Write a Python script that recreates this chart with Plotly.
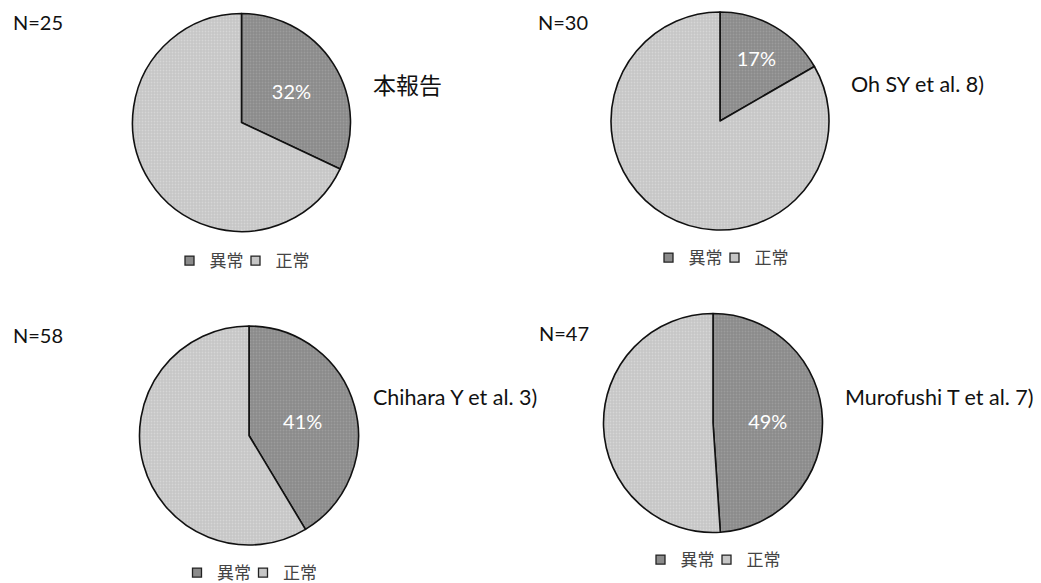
import plotly.graph_objects as go

# Study data: abnormal / normal counts for each cohort
studies = ["本報告", "Oh SY et al. 8)", "Chihara Y et al. 3)", "Murofushi T et al. 7)"]
sample_sizes = [25, 30, 58, 47]
abnormal = [8, 5, 24, 23]
normal = [17, 25, 34, 24]
categories = ["異常", "正常"]

W, H = 1041, 583
DARK = "#8b8b8b"
LIGHT = "#c6c6c6"
COLORS = [DARK, LIGHT]
GRAIN = ["#9c9c9c", "#d6d6d6"]
LATIN = "Lato, 'Noto Sans CJK JP', sans-serif"
CJK = "'Noto Sans CJK JP', sans-serif"
LEG_OFFSET = 19.5  # legend left edge -> first swatch centre (px)

# pixel layout per panel: pie centre, radius, N label, study label, first legend swatch
panels = [
    dict(cx=241.5, cy=122.5, r=109, n=(11, 22), lab=(371, 84), leg=(189, 261)),
    dict(cx=720, cy=121, r=109, n=(536, 22), lab=(849, 84), leg=(668, 258)),
    dict(cx=249, cy=435.5, r=109.5, n=(11, 335), lab=(371, 397), leg=(196.5, 573)),
    dict(cx=713, cy=423, r=109.5, n=(537, 333), lab=(843, 397), leg=(660, 560)),
]

fig = go.Figure()
annotations = []
legends = {}
for i, (p, name, n, a, b) in enumerate(zip(panels, studies, sample_sizes, abnormal, normal)):
    lg = "legend" if i == 0 else f"legend{i + 1}"
    fig.add_trace(go.Pie(
        labels=categories,
        values=[a, b],
        sort=False,
        direction="clockwise",
        rotation=0,
        marker=dict(
            colors=COLORS,
            line=dict(color="#111111", width=1.6),
            pattern=dict(shape=[".", "."], bgcolor=COLORS, fgcolor=GRAIN,
                         fillmode="replace", size=3, solidity=0.3),
        ),
        texttemplate=["%{percent:.0%}", ""],
        textposition="inside",
        insidetextorientation="horizontal",
        insidetextfont=dict(color="white", size=20, family=LATIN),
        hoverinfo="label+value+percent",
        domain=dict(x=[(p["cx"] - p["r"]) / W, (p["cx"] + p["r"]) / W],
                    y=[1 - (p["cy"] + p["r"]) / H, 1 - (p["cy"] - p["r"]) / H]),
        showlegend=False,
    ))
    # legend entries for this panel (square swatches)
    for cat, col in zip(categories, COLORS):
        fig.add_trace(go.Scatter(
            x=[None], y=[None], mode="markers", name=cat,
            marker=dict(symbol="square", size=9, color=col,
                        line=dict(color="#222222", width=1.3)),
            legend=lg, showlegend=True, hoverinfo="skip",
        ))
    # blank trailing entry so the compact legend box leaves room for the last label
    fig.add_trace(go.Scatter(
        x=[None], y=[None], mode="markers", name=" ",
        marker=dict(symbol="square", size=1, color="rgba(0,0,0,0)",
                    line=dict(width=0)),
        legend=lg, showlegend=True, hoverinfo="skip",
    ))
    legends[lg] = dict(
        x=(p["leg"][0] - LEG_OFFSET) / W, y=1 - p["leg"][1] / H,
        xref="container", yref="container",
        xanchor="left", yanchor="middle",
        orientation="h",
        font=dict(family=CJK, size=17, color="#444444"),
        itemwidth=30,
        entrywidth=21,
        tracegroupgap=0,
        bgcolor="rgba(0,0,0,0)",
    )
    annotations.append(dict(
        text=f"N={n}", x=p["n"][0] / W, y=1 - p["n"][1] / H,
        xref="paper", yref="paper", xanchor="left", yanchor="middle",
        showarrow=False, font=dict(family=LATIN, size=20, color="#111111"),
    ))
    annotations.append(dict(
        text=name, x=p["lab"][0] / W, y=1 - p["lab"][1] / H,
        xref="paper", yref="paper", xanchor="left", yanchor="middle",
        showarrow=False,
        font=dict(family=CJK if i == 0 else LATIN, size=23 if i == 0 else 21.5,
                  color="#111111"),
    ))

fig.update_layout(
    width=W, height=H,
    margin=dict(l=0, r=0, t=0, b=0, autoexpand=False),
    paper_bgcolor="white",
    plot_bgcolor="white",
    xaxis=dict(visible=False),
    yaxis=dict(visible=False),
    annotations=annotations,
    **legends,
)

fig.write_html("out.html")
